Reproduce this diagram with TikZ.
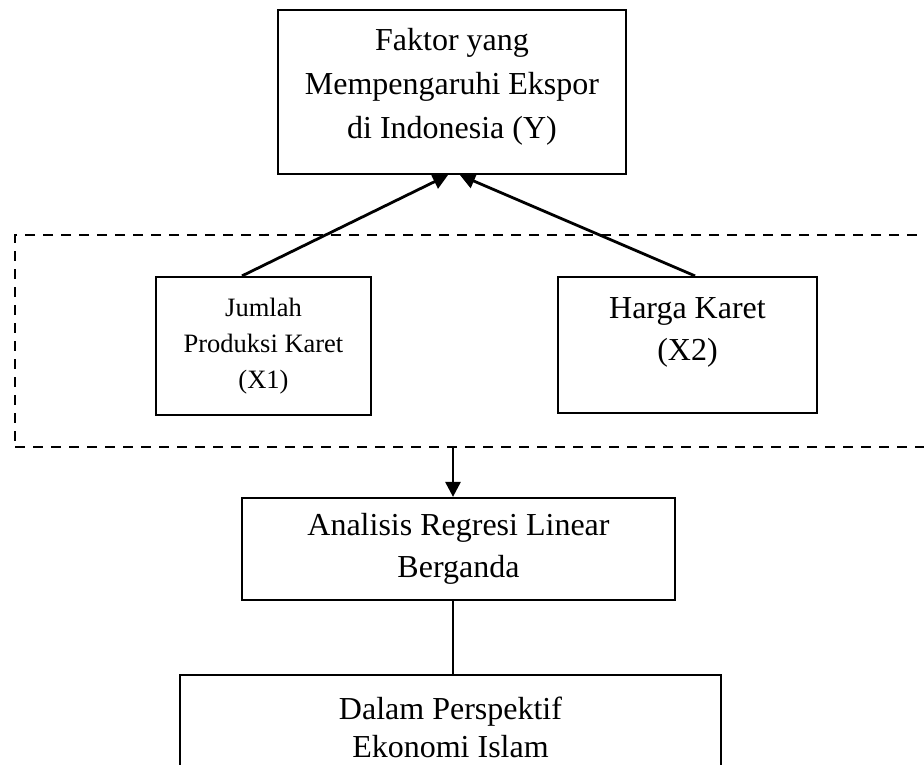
\documentclass[tikz,border=0pt]{standalone}
\usepackage{fontspec}
\setmainfont{Liberation Serif}
\usetikzlibrary{arrows.meta}

\tikzset{
  kotak/.style={draw, line width=2.2pt, align=center, inner sep=0pt},
  panah/.style={line width=2.8pt, -{Triangle[length=15pt,width=15pt]}},
}

\begin{document}
\begin{tikzpicture}[x=1pt,y=-1pt]
\clip (0,0) rectangle (924,765);
% kelompok variabel bebas
\node[draw, dash pattern=on 10pt off 8pt, line width=2.8pt, minimum width=930pt, minimum height=212pt] (bebas) at (480,341) {};
\node[kotak, minimum width=348pt, minimum height=164pt, text depth=17pt, font=\fontsize{32}{44}\selectfont] (faktor) at (452,92) {Faktor yang\\Mempengaruhi Ekspor\\di Indonesia (Y)};
\node[kotak, minimum width=215pt, minimum height=138pt, font=\fontsize{26.5}{36}\selectfont] (produksi) at (263.5,346) {Jumlah\\Produksi Karet\\(X1)};
\node[kotak, minimum width=259pt, minimum height=136pt, text depth=31pt, font=\fontsize{32}{42}\selectfont] (harga) at (687.5,345) {Harga Karet\\(X2)};
\node[kotak, minimum width=433pt, minimum height=102pt, font=\fontsize{32}{42}\selectfont] (regresi) at (458.5,549) {Analisis Regresi Linear\\Berganda};
\node[kotak, minimum width=541pt, minimum height=118pt, text depth=14pt, font=\fontsize{32}{38}\selectfont] (islam) at (450.5,734) {Dalam Perspektif\\Ekonomi Islam};
% panah
\draw[panah] ([xshift=-21.5pt]produksi.north) -- ([xshift=-4pt]faktor.south);
\draw[panah] ([xshift=7.5pt]harga.north) -- ([xshift=8pt]faktor.south);
\draw[panah] ([xshift=-5.5pt]regresi.north |- bebas.south) -- ([xshift=-5.5pt]regresi.north);
\draw[line width=2.2pt] ([xshift=-5.5pt]regresi.south) -- ([xshift=-5.5pt]regresi.south |- islam.north);
\end{tikzpicture}
\end{document}
